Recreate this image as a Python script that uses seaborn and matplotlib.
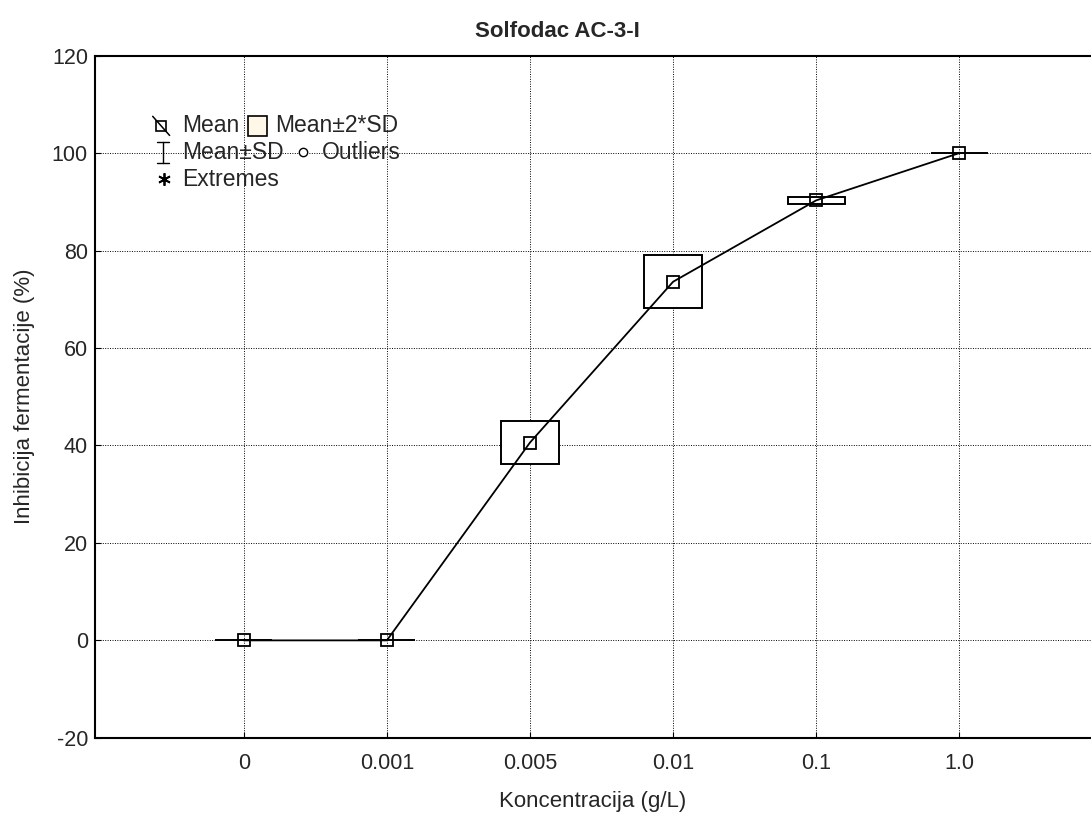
import numpy as np
import pandas as pd
import matplotlib
matplotlib.use("Agg")
import matplotlib.pyplot as plt
import seaborn as sns
from matplotlib.patches import Rectangle

concentrations = ['0', '0.001', '0.005', '0.01', '0.1', '1.0']
mean_vals = [0.0, 0.0, 40.6, 73.6, 90.3, 100.0]
sd_vals = [0.0, 0.0, 2.2, 2.7, 0.35, 0.0]

df = pd.DataFrame({'conc': concentrations, 'mean': mean_vals, 'sd': sd_vals})
df['pos'] = np.arange(len(df))

sns.set_style("ticks")
plt.rcParams['font.family'] = ['Liberation Sans', 'DejaVu Sans']
plt.rcParams['axes.unicode_minus'] = False

fig = plt.figure(figsize=(10.91, 8.18), dpi=100)
ax = fig.add_axes([0.087, 0.098, 0.913, 0.834])

box_w = 0.4
for _, r in df.iterrows():
    # mean +- 2*SD box
    ax.add_patch(Rectangle((r['pos'] - box_w / 2, r['mean'] - 2 * r['sd']), box_w, 4 * r['sd'],
                           facecolor='white', edgecolor='black', linewidth=1.4, zorder=3))

sns.lineplot(data=df, x='pos', y='mean', ax=ax, color='black', lw=1.3,
             marker='s', markersize=9, markerfacecolor='none', markeredgecolor='black',
             markeredgewidth=1.3, zorder=4)

ax.set_xlim(-1.04, 5.92)
ax.set_ylim(-20, 120)
ax.set_xticks(df['pos'])
ax.set_xticklabels(concentrations)
ax.set_yticks(np.arange(-20, 121, 20))
ax.grid(True, color='black', linestyle=(0, (1, 1.5)), linewidth=0.7, zorder=0)
ax.set_axisbelow(True)
ax.tick_params(direction='in', length=4, labelsize=15.5, color='black')
ax.tick_params(axis='x', pad=11)
ax.tick_params(axis='y', pad=5)
ax.spines['right'].set_visible(False)
for s in ['left', 'top', 'bottom']:
    ax.spines[s].set_linewidth(1.5)
    ax.spines[s].set_color('black')

ax.set_xlabel('Koncentracija (g/L)', fontsize=16, labelpad=12)
ax.set_ylabel('Inhibicija fermentacije (%)', fontsize=16, labelpad=12)
fig.text(0.5105, 0.962, 'Solfodac AC-3-I', ha='center', va='center', fontsize=16, fontweight='bold')

# legend (Statistica style)
tr = ax.transAxes
fs = 16.5
y1, y2, y3 = 0.897, 0.858, 0.819
ax.plot([0.066], [y1], marker='s', ms=7.5, mfc='white', mec='black', mew=1.2, transform=tr, zorder=6)
ax.plot([0.058, 0.075], [y1 + 0.014, y1 - 0.014], color='black', lw=1.1, transform=tr, zorder=6)
ax.text(0.0873, y1, 'Mean', transform=tr, fontsize=fs, va='center')
ax.add_patch(Rectangle((0.1536, y1 - 0.0145), 0.019, 0.029, transform=tr, facecolor='#fff8e8',
                       edgecolor='black', lw=1.2, zorder=6))
ax.text(0.1807, y1, 'Mean±2*SD', transform=tr, fontsize=fs, va='center')
ax.plot([0.0685, 0.0685], [y2 - 0.016, y2 + 0.016], color='black', lw=1, transform=tr, zorder=6)
ax.plot([0.0625, 0.0745], [y2 + 0.016, y2 + 0.016], color='black', lw=1, transform=tr, zorder=6)
ax.plot([0.0625, 0.0745], [y2 - 0.016, y2 - 0.016], color='black', lw=1, transform=tr, zorder=6)
ax.text(0.0873, y2, 'Mean±SD', transform=tr, fontsize=fs, va='center')
ax.plot([0.2088], [y2], marker='o', ms=6, mfc='white', mec='black', mew=1, transform=tr, zorder=6)
ax.text(0.228, y2, 'Outliers', transform=tr, fontsize=fs, va='center')
ax.plot([0.069], [y3], marker=(6, 2, 0), ms=9, color='black', mew=1.3, transform=tr, zorder=6)
ax.text(0.0873, y3, 'Extremes', transform=tr, fontsize=fs, va='center')

fig.savefig('out.png', dpi=100)
